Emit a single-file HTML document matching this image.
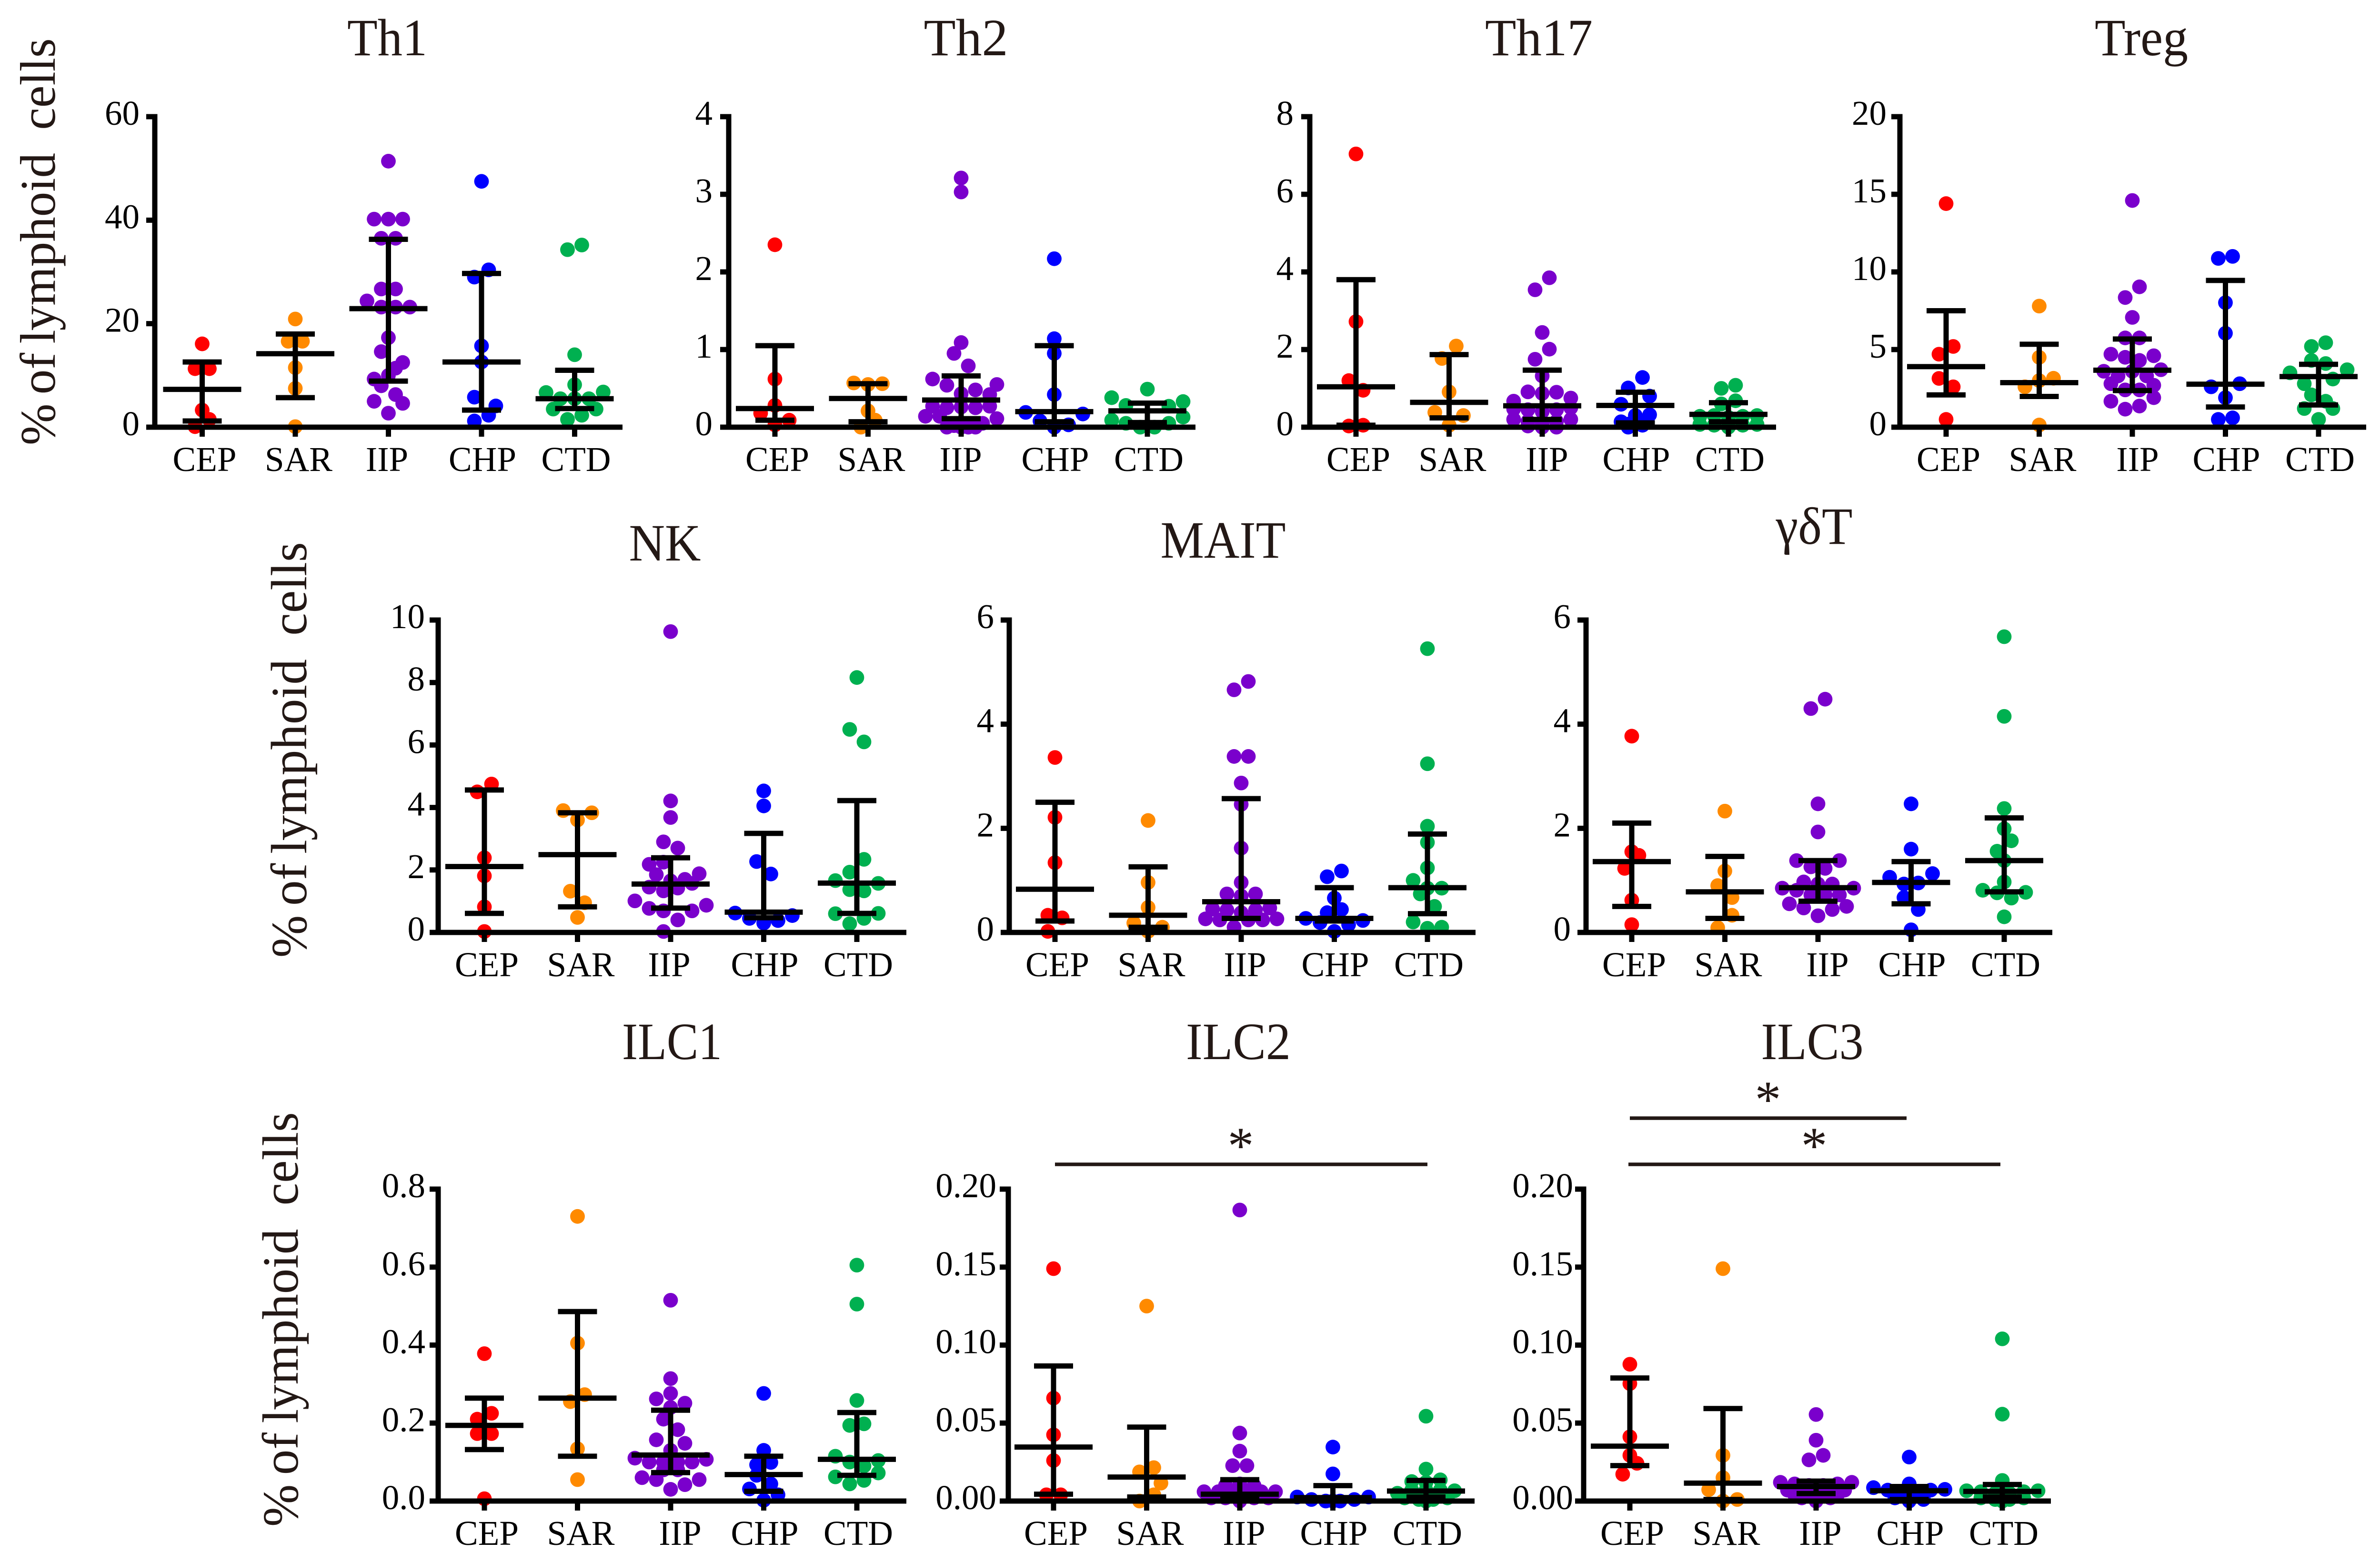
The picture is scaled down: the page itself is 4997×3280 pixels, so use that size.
<!DOCTYPE html>
<html lang="en">
<head>
<meta charset="utf-8">
<title>Lymphoid cell subsets by diagnosis</title>
<style>
html,body{margin:0;padding:0;background:#fff;}
svg{display:block;}
text{font-family:"Liberation Serif","DejaVu Serif",serif;}
</style>
</head>
<body>
<svg id="figure" xmlns="http://www.w3.org/2000/svg" width="4997" height="3280" viewBox="0 0 4997 3280"></svg>
<script>
// ---------- shared data ----------
const categories = ['CEP', 'SAR', 'IIP', 'CHP', 'CTD'];
const categoryColors = ['#ff0000', '#ff8a00', '#7a00cc', '#0000ff', '#00b050'];

// ---------- values: each group is a list of swarm rows, left to right (null = empty slot) ----------
const th1Ticks = ['0', '20', '40', '60'];
const th1Rows = [
  [[16.1], [11.3, 11.3], [3.3], [0.1, 1.5]],
  [[20.9], [16.6, 16.6], [11.5], [7.5], [0.1]],
  [[51.4], [40.2, 40.2, 40.2], [36.5, 36.5], [26.7, 26.7], [24.4, 23.2, 23.2, 23.2], [17.3], [14.6, 11.4], [9.3, 10, 12.5], [8.0, 6.3], [5.0, 2.7, 4.6]],
  [[47.5], [29, 30.4], [15.7], [12.6], [5.8, 2.3], [null, null, 4.1], [1.2, null]],
  [[34.3, 35.2], [14], [8.2], [6.7, 5.5, 5.5, 5.5, 6.8], [3.5, 1.5, 2.3, 3.5]]
];
const th1Means = [7.3, 14.2, 22.9, 12.6, 5.5];
const th1Upper = [12.6, 18, 36.3, 29.7, 11];
const th1Lower = [1.2, 5.7, 8.9, 3.3, 3.6];

const th2Ticks = ['0', '1', '2', '3', '4'];
const th2Rows = [
  [[2.35], [0.62], [0.18, 0.28, 0.09], [0.03]],
  [[0.57, 0.55, 0.56], [0.21], [null, 0.09], [0, null]],
  [[3.21], [3.03], [1.09], [0.95, 0.79], [0.62, 0.54, 0.43, 0.48, 0.42], [null, null, null, null, null, 0.55], [0.27, 0.25, 0.26, 0.25, 0.27], [0.14, 0.14, 0.02, 0, 0.05, 0.11], [0, 0, 0]],
  [[2.17], [1.14], [0.95], [0.42], [0.19, 0.08, 0, 0.03, 0.17]],
  [[0.49], [0.38, 0.28, null, null, 0.27, 0.33], [0.09, 0.05, 0, 0, 0.05, 0.13]]
];
const th2Means = [0.24, 0.37, 0.35, 0.2, 0.21];
const th2Upper = [1.05, 0.56, 0.66, 1.05, 0.31];
const th2Lower = [0.09, 0.07, 0.11, 0.07, 0.06];

const th17Ticks = ['0', '2', '4', '6', '8'];
const th17Rows = [
  [[7.04], [2.72], [1.2, 0.95], [0.03, 0.05]],
  [[1.77, 2.09], [0.91], [0.38, 0.05, 0.3]],
  [[3.54, 3.85], [2.44], [1.75, 2.01], [1.32], [0.67, 0.91, 0.87, 0.9, 0.75], [0.47, 0.45, 0.4, 0.45, 0.5], [0.2, 0.15, 0.1, 0.15, 0.2], [0.03, 0, 0]],
  [[1.01, 1.28], [0.59, null, 0.8], [0.14, 0.3, 0.32], [0.08, 0.1], [0, 0.05]],
  [[1.0, 1.08], [0.6, 0.68], [0.28, 0.3, 0.25, 0.28, 0.3], [0.07, 0.05, 0, 0.05, 0.07]]
];
const th17Means = [1.04, 0.64, 0.55, 0.56, 0.33];
const th17Upper = [3.8, 1.87, 1.47, 0.9, 0.63];
const th17Lower = [0.05, 0.24, 0.2, 0.11, 0.14];

const tregTicks = ['0', '5', '10', '15', '20'];
const tregRows = [
  [[14.4], [4.7, 5.2], [3.14, 2.6], [0.5]],
  [[7.8], [4.5], [2.6, 3, 3.15], [0.14]],
  [[14.6], [8.35, 9.04], [7.07], [5.75, 5.75], [4.7, 4.5, 4.3, 4.6], [3.6, 3.3, 3.6, 3.3, 3.7], [2.8, 2.4, 2.4, 2.7], [1.67, 1.16, 1.36, 1.9]],
  [[10.87, 11], [8.02], [6.05], [2.6, null, 2.8], [1.9], [0.5, 0.6]],
  [[5.2, 5.44], [4.3, 4.1], [3.5, 2.8, null, 3.1, 3.7], [2.08, 1.67], [1.2, null, 1.2], [0.5]]
];
const tregMeans = [3.9, 2.87, 3.67, 2.77, 3.26];
const tregUpper = [7.5, 5.34, 5.68, 9.45, 4.05];
const tregLower = [2.08, 1.98, 2.36, 1.3, 1.43];

const nkTicks = ['0', '2', '4', '6', '8', '10'];
const nkRows = [
  [[4.5, 4.75], [2.39], [1.81], [0.82], [0.03]],
  [[3.9, 3.6, 3.83], [1.32, 0.95], [0.48]],
  [[9.63], [4.21], [3.68], [2.9, 2.7], [2.18, 2.25, null, null], [null, 1.85, 1.65, 1.7, 1.88], [1.45, 1.33, 1.42, 1.57], [1.01, 0.77, 0.69, 0.4, 0.69, 0.87], [0.03, null]],
  [[4.53], [4.05], [2.27, 1.87], [0.62, 0.45, 0.3, 0.38, 0.54]],
  [[8.16], [6.5, 6.1], [1.93, 2.34], [1.66, 1.37, 1.33, 1.57], [0.6, 0.28, 0.45, 0.61]]
];
const nkMeans = [2.11, 2.49, 1.55, 0.65, 1.58];
const nkUpper = [4.56, 3.83, 2.39, 3.17, 4.22];
const nkLower = [0.61, 0.82, 0.78, 0.47, 0.61];

const maitTicks = ['0', '2', '4', '6'];
const maitRows = [
  [[3.36], [2.21], [1.34], [0.33, 0.28], [0.02, null]],
  [[2.15], [0.96], [0.48], [0.18, 0.02, 0.1]],
  [[4.66, 4.82], [3.38, 3.38], [2.87], [2.46], [1.62], [0.96], [0.74, 0.7, 0.74], [0.45, 0.43, 0.38, 0.43, 0.47], [0.26, 0.24, 0.1, 0.24, 0.24, 0.26]],
  [[1.07, 1.18], [0.66], [0.38, 0.44], [0.27, 0.19, 0.02, 0.15, 0.23]],
  [[5.45], [3.24], [2.04], [1.73], [1.24], [1.0, 0.85, 0.85], [0.74, 0.5], [0.2, 0.08, 0.1]]
];
const maitMeans = [0.83, 0.33, 0.59, 0.27, 0.86];
const maitUpper = [2.5, 1.26, 2.57, 0.86, 1.89];
const maitLower = [0.22, 0.1, 0.27, 0.22, 0.36];

const gdtTicks = ['0', '2', '4', '6'];
const gdtRows = [
  [[3.77], [1.55], [1.23, 1.48], [0.62], [0.15]],
  [[2.33], [1.18], [0.9, 0.67], [0.09, 0.33]],
  [[4.3, 4.48], [2.47], [1.93], [1.38, 1.26, 1.23, 1.38], [null, 0.97, 0.93, 0.93, null], [0.85, 0.81, 0.72, 0.72, 0.72, 0.85], [0.55, 0.47, 0.32, 0.44, 0.5]],
  [[2.47], [1.6], [1.06, 0.93, 0.95, 1.13], [0.67, 0.44], [0.05]],
  [[5.68], [4.15], [2.38], [1.99], [1.56, 1.76], [1.38], [0.97], [0.81, 0.76, 0.66, 0.77], [0.3]]
];
const gdtMeans = [1.36, 0.78, 0.86, 0.96, 1.38];
const gdtUpper = [2.1, 1.46, 1.38, 1.36, 2.2];
const gdtLower = [0.5, 0.27, 0.6, 0.55, 0.78];

const ilc1Ticks = ['0.0', '0.2', '0.4', '0.6', '0.8'];
const ilc1Rows = [
  [[0.378], [0.21, 0.225], [0.173, 0.173], [0.006]],
  [[0.73], [0.405], [0.255, 0.273], [0.134], [0.055]],
  [[0.515], [0.314], [0.276], [0.262, 0.24, 0.251], [0.21, 0.183], [0.157, 0.13, 0.148], [0.11, 0.1, 0.1, 0.1, 0.1, 0.107], [0.08, 0.08], [0.06, 0.055, 0.03, 0.042, 0.055]],
  [[0.276], [0.13], [0.093, 0.099], [0.066, 0.044], [0.031, 0.002, 0.016]],
  [[0.605], [0.505], [0.258], [0.194, 0.198], [0.115, 0.1, 0.09, 0.104], [0.062, 0.044, 0.053, 0.072]]
];
const ilc1Means = [0.194, 0.264, 0.118, 0.068, 0.107];
const ilc1Upper = [0.264, 0.486, 0.233, 0.115, 0.227];
const ilc1Lower = [0.132, 0.115, 0.073, 0.025, 0.066];

const ilc2Ticks = ['0.00', '0.05', '0.10', '0.15', '0.20'];
const ilc2Rows = [
  [[0.149], [0.066], [0.0425], [0.026], [0.004, 0.004]],
  [[0.125], [0.0187, 0.0214], [null, null, 0.0115], [0, 0.004]],
  [[0.1866], [0.0436], [0.032], [0.0227, 0.0227], [0.01, 0.011, 0.01], [0.006, 0.006, 0.006, 0.006, 0.006, 0.006], [0.002, 0.002, 0.002, 0.002, 0.002], [0]],
  [[0.0346], [0.0174], [0.0026, 0.001, 0, 0, 0.001, 0.0026], [0]],
  [[0.0544], [0.0205], [0.0125, 0.012, 0.0136], [0.005, 0.007, 0.007, 0.007, 0.0066], [0.002, 0.001, 0.001, 0.002], [0]]
];
const ilc2Means = [0.0346, 0.0154, 0.0044, 0.0022, 0.0064];
const ilc2Upper = [0.0866, 0.0474, 0.0137, 0.0099, 0.0132];
const ilc2Lower = [0.0044, 0.0026, 0.0018, 0.001, 0.0026];

const ilc3Ticks = ['0.00', '0.05', '0.10', '0.15', '0.20'];
const ilc3Rows = [
  [[0.0877], [0.0753], [0.0412], [0.0293], [0.0172, 0.0242]],
  [[0.149], [0.0293], [0.015], [0.0073, 0, 0.001]],
  [[0.0555], [0.039], [0.0264, 0.0293], [0.012, 0.011, 0.01, 0.01, 0.011, 0.012], [0.007, 0.007, 0.007, 0.007, 0.007], [0.004, 0.004, 0.004, 0.004], [0.002, 0.002, 0.002], [0]],
  [[0.0282], [0.011], [0.0086, 0.007, 0.006, 0.006, 0.007, 0.0075], [0.002, 0, 0.001]],
  [[0.104], [0.0557], [0.0132], [0.0066, 0.006, 0.005, 0.005, 0.006, 0.0066], [0.002, 0.001, 0.001, 0.002], [0]]
];
const ilc3Means = [0.0352, 0.0115, 0.0093, 0.0066, 0.0062];
const ilc3Upper = [0.0789, 0.0593, 0.0128, 0.0093, 0.0106];
const ilc3Lower = [0.0227, 0.001, 0.0048, 0.001, 0.0026];

// ---------- layout (kept apart from the values) ----------
const panelLayouts = [
  {id:'th1',  title:'Th1',  titleWidth:168, ticks:th1Ticks,  rows:th1Rows,  means:th1Means,  upper:th1Upper,  lower:th1Lower,  axisX:325,  firstX:424.5, top:245,  bottom:897,  endX:1307, tickGap:14, titleX:813,  titleY:116,  iipShift:-3},
  {id:'th2',  title:'Th2',  titleWidth:177, ticks:th2Ticks,  rows:th2Rows,  means:th2Means,  upper:th2Upper,  lower:th2Lower,  axisX:1530, firstX:1627,  top:245,  bottom:897,  endX:2510, tickGap:16, titleX:2028, titleY:116,  iipShift:-1},
  {id:'th17', title:'Th17', titleWidth:226, ticks:th17Ticks, rows:th17Rows, means:th17Means, upper:th17Upper, lower:th17Lower, axisX:2750, firstX:2847,  top:245,  bottom:897,  endX:3729, tickGap:16, titleX:3231, titleY:116,  iipShift:10},
  {id:'treg', title:'Treg', titleWidth:196, ticks:tregTicks, rows:tregRows, means:tregMeans, upper:tregUpper, lower:tregLower, axisX:3989, firstX:4086,  top:245,  bottom:897,  endX:4968, tickGap:10, titleX:4496, titleY:116,  iipShift:11},
  {id:'nk',   title:'NK',   titleWidth:151, ticks:nkTicks,   rows:nkRows,   means:nkMeans,   upper:nkUpper,   lower:nkLower,   axisX:920,  firstX:1017,  top:1302, bottom:1958, endX:1903, tickGap:10, titleX:1396, titleY:1177, iipShift:-3},
  {id:'mait', title:'MAIT', titleWidth:263, ticks:maitTicks, rows:maitRows, means:maitMeans, upper:maitUpper, lower:maitLower, axisX:2119, firstX:2215,  top:1302, bottom:1958, endX:3098, tickGap:14, titleX:2568, titleY:1171, iipShift:8},
  {id:'gdt',  title:'γδT',  titleWidth:161, ticks:gdtTicks,  rows:gdtRows,  means:gdtMeans,  upper:gdtUpper,  lower:gdtLower,  axisX:3330, firstX:3426,  top:1302, bottom:1958, endX:4309, tickGap:14, titleX:3809, titleY:1142, iipShift:20},
  {id:'ilc1', title:'ILC1', titleWidth:210, ticks:ilc1Ticks, rows:ilc1Rows, means:ilc1Means, upper:ilc1Upper, lower:ilc1Lower, axisX:920,  firstX:1017,  top:2497, bottom:3152, endX:1903, tickGap:9,  titleX:1411, titleY:2224, iipShift:20},
  {id:'ilc2', title:'ILC2', titleWidth:220, ticks:ilc2Ticks, rows:ilc2Rows, means:ilc2Means, upper:ilc2Upper, lower:ilc2Lower, axisX:2117, firstX:2212,  top:2497, bottom:3152, endX:3096, tickGap:7,  titleX:2600, titleY:2224, iipShift:9},
  {id:'ilc3', title:'ILC3', titleWidth:215, ticks:ilc3Ticks, rows:ilc3Rows, means:ilc3Means, upper:ilc3Upper, lower:ilc3Lower, axisX:3325, firstX:3422,  top:2497, bottom:3152, endX:4306, tickGap:4,  titleX:3805, titleY:2224, iipShift:9}
];
const categoryStep = 195.5;
const labelShifts = [5, 7, 0, 2, 3];
const swarmStep = 30;
const dotRadius = 15.4;
const barWidth = 11;
const inkColor = '#231815';

const svg = document.getElementById('figure');
const NS = 'http://www.w3.org/2000/svg';

function addShape(parent, tag, attrs) {
  const el = document.createElementNS(NS, tag);
  for (const key in attrs) el.setAttribute(key, attrs[key]);
  parent.appendChild(el);
  return el;
}
function addRule(parent, x1, y1, x2, y2, width, color) {
  return addShape(parent, 'line', {x1: x1, y1: y1, x2: x2, y2: y2, stroke: color || '#000', 'stroke-width': width});
}
function addLabel(parent, x, y, content, size, anchor, color) {
  const el = addShape(parent, 'text', {x: x, y: y, 'font-size': size, 'text-anchor': anchor, fill: color || '#000'});
  el.textContent = content;
  return el;
}

panelLayouts.forEach(function (p) {
  const yMax = Number(p.ticks[p.ticks.length - 1]);
  const yScale = function (v) { return p.bottom - (v / yMax) * (p.bottom - p.top); };
  const xScale = function (i) { return p.firstX + i * categoryStep; };

  const group = addShape(svg, 'g', {});
  
  

  const title = addLabel(group, p.titleX, p.titleY, p.title, 110, 'middle', inkColor);
  title.setAttribute('textLength', p.titleWidth);
  title.setAttribute('lengthAdjust', 'spacingAndGlyphs');
  
  

  // points first, error bars drawn over them
  p.rows.forEach(function (rows, c) {
    rows.forEach(function (row) {
      row.forEach(function (value, j) {
        if (value === null) return;
        const dot = addShape(group, 'circle', {
          cx: xScale(c) + (j - (row.length - 1) / 2) * swarmStep,
          cy: yScale(value),
          r: dotRadius,
          fill: categoryColors[c]
        });
        
        
      });
    });
  });

  // x axis and y axis
  const axisY = addRule(group, p.axisX, p.top - barWidth / 2, p.axisX, p.bottom, barWidth);
  
  
  const axisXLine = addRule(group, p.axisX - 18, p.bottom, p.endX, p.bottom, barWidth);
  
  

  p.ticks.forEach(function (t) {
    const y = yScale(Number(t));
    const tick = addRule(group, p.axisX - 18, y, p.axisX, y, barWidth);
    
    
    const label = addLabel(group, p.axisX - 18 - p.tickGap, y + 17, t, 73, 'end');
    
    
  });

  categories.forEach(function (name, c) {
    const x = xScale(c);
    const tick = addRule(group, x, p.bottom, x, p.bottom + 20, barWidth);
    
    
    const shift = name === 'IIP' ? p.iipShift : labelShifts[c];
    const label = addLabel(group, x + shift, p.bottom + 92, name, 73, 'middle');
    
    

    const whisker = addRule(group, x, yScale(p.upper[c]), x, yScale(p.lower[c]), barWidth);
    
    
    const capTop = addRule(group, x - 41, yScale(p.upper[c]), x + 41, yScale(p.upper[c]), barWidth);
    
    
    const capBottom = addRule(group, x - 41, yScale(p.lower[c]), x + 41, yScale(p.lower[c]), barWidth);
    
    
    const median = addRule(group, x - 82, yScale(p.means[c]), x + 82, yScale(p.means[c]), barWidth);
    
    
  });
});

// y axis titles, one per row; word pieces carry the uneven spacing of the original
const yTitlePieces = ['%', ' of', ' l', 'ymphoid', ' cells'];
const yTitleNudges = [0, -7, -7, -2, 22];
const yTitleBaselines = [115, 643, 625];
const yTitleBottoms = [935, 2011, 3206];
const yTitleLengths = [849, 867, 865];
yTitleBaselines.forEach(function (bx, i) {
  const scale = yTitleLengths[i] / 849;
  const el = addShape(svg, 'text', {'font-size': 105 * scale, 'text-anchor': 'start', fill: inkColor});
  el.setAttribute('transform', 'translate(' + bx + ' ' + yTitleBottoms[i] + ') rotate(-90)');
  
  
  yTitlePieces.forEach(function (piece, k) {
    const span = addShape(el, 'tspan', {dx: yTitleNudges[k] * scale});
    span.textContent = piece;
  });
});

// significance brackets
const bracketStarts = [2215, 3422, 3419];
const bracketEnds = [2997, 4003, 4200];
const bracketLevels = [2445, 2348, 2445];
const starCenters = [2605, 3712, 3809];
bracketStarts.forEach(function (x1, i) {
  const bar = addRule(svg, x1, bracketLevels[i], bracketEnds[i], bracketLevels[i], 7.5, inkColor);
  
  
  const star = addLabel(svg, starCenters[i], bracketLevels[i] - 2, '*', 110, 'middle', inkColor);
  
  
});
</script>
</body>
</html>
